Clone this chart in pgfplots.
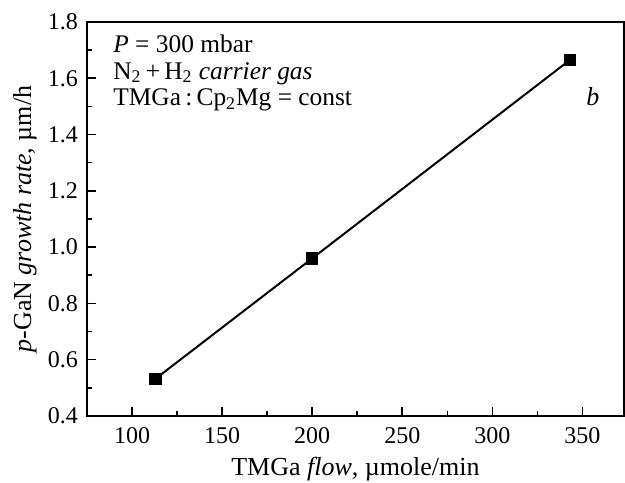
\documentclass[border=0pt]{standalone}
\usepackage{fontspec}
\setmainfont{Liberation Serif}
\usepackage{pgfplots}
\pgfplotsset{compat=1.18}

\begin{document}
\begin{tikzpicture}
\begin{axis}[
    name=ax,
    scale only axis,
    width=268.5pt, height=197pt,
    xmin=75, xmax=373,
    ymin=0.4, ymax=1.8,
    xtick={100,150,...,350},
    ytick={0.4,0.6,...,1.8},
    minor x tick num=1,
    minor y tick num=1,
    xtick pos=bottom, ytick pos=left,
    tick align=inside,
    major tick length=4.5pt,
    minor tick length=2.5pt,
    axis line style={line width=1.1pt},
    every tick/.style={line width=0.8pt, black},
    /pgf/number format/assume math mode=true,
    yticklabel style={/pgf/number format/fixed, /pgf/number format/fixed zerofill,
        /pgf/number format/precision=1, xshift=-1pt},
    xticklabel style={yshift=-2.5pt},
    tick label style={font=\fontsize{12}{14}\selectfont},
    label style={font=\fontsize{13}{15}\selectfont, inner sep=0pt},
    xlabel={TMGa \textit{flow}, µmole/min},
    xlabel style={at={(axis description cs:0.5,0)}, anchor=north, yshift=-20.5pt},
    ylabel={\textit{p}-GaN \textit{growth rate}, µm/h},
    ylabel style={at={(axis description cs:-0.0931,0.5)}, anchor=south, rotate=0},
    clip=false,
]
% growth rate vs TMGa flow
\addplot [black, line width=1pt, mark=square*, mark size=2.6pt,
    mark options={solid, fill=black}] coordinates {
    (113, 0.532)
    (200, 0.960)
    (343, 1.665)
};

\node [anchor=north west, inner sep=0pt, align=left,
    font=\fontsize{12.7}{13.25}\selectfont] at (rel axis cs:0.0484,0.968)
    {\textit{P} = 300 mbar\\
     N\textsubscript{2}\,+\,H\textsubscript{2} \textit{carrier gas}\\
     TMGa\,:\,Cp\textsubscript{2}Mg = const};
\node [font=\fontsize{13}{15}\selectfont\itshape] at (rel axis cs:0.942,0.81) {b};
\end{axis}
\path ([shift={(-43.5pt,-33.5pt)}]ax.south west) rectangle ([shift={(0.5pt,11pt)}]ax.north east);
\end{tikzpicture}
\end{document}
